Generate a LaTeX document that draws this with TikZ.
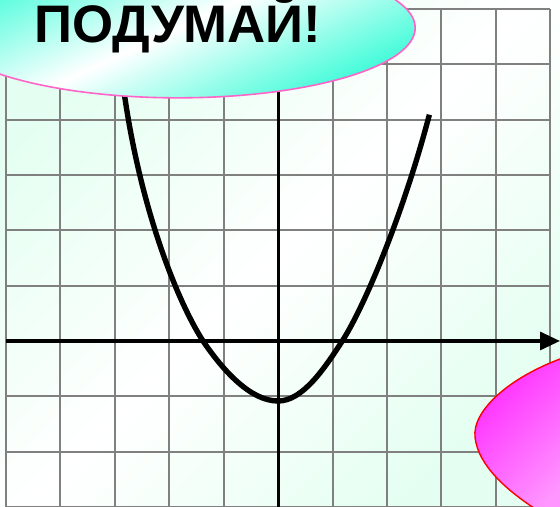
\documentclass[tikz,border=0pt]{standalone}
\usepackage{fontspec}
\setmainfont{Liberation Sans}
\usetikzlibrary{arrows.meta, shapes.geometric}
\definecolor{mint}{RGB}{228,255,241}
\definecolor{aqua}{RGB}{60,252,216}
\definecolor{cloudrim}{RGB}{255,100,200}
\definecolor{blob}{RGB}{255,40,255}
\definecolor{blobhi}{RGB}{255,150,255}
\tikzset{
  gridline/.style={draw=gray, line width=1pt},
  axisline/.style={line width=1.6pt},
  graphline/.style={line width=2.7pt, line join=round}
}
\tikzset{
  thinkcloud/.style={ellipse, draw=cloudrim, line width=0.8pt,
    left color=aqua, right color=aqua, middle color=white, shading angle=25,
    minimum width=8.37cm, minimum height=2.47cm, inner sep=0pt},
  bigword/.style={font=\fontsize{26.5}{30}\selectfont\bfseries}
}

\begin{document}
\begin{tikzpicture}[x=0.96cm, y=0.976cm, >={Triangle[length=10pt,width=9pt]}]
  \useasboundingbox (-5.11,-2.984) rectangle (5.18,6.163);
  \clip (-5.11,-2.984) rectangle (5.18,6.163);
  \fill[left color=mint, right color=mint, middle color=white, shading angle=45]
    (-5.11,-2.984) rectangle (5.18,6.163);
  \foreach \x in {-5,...,5}
    \draw[gridline] (\x,-3) -- (\x,6);
  \foreach \y in {-3,...,6}
    \draw[gridline] (-5,\y) -- (5,\y);
  \draw[axisline, ->] (-5,0) -- (5.18,0);
  \draw[axisline] (0,-3) -- (0,5.2);
  % the graph
  \draw[graphline] (-2.87,4.8) .. controls (-2.6,2.6) and (-1.9,0.8) .. (-1.38,0)
    .. controls (-1.0,-0.55) and (-0.5,-1.085) .. (0,-1.085)
    .. controls (0.45,-1.085) and (0.85,-0.5) .. (1.18,0)
    .. controls (1.6,0.65) and (2.3,2.3) .. (2.78,4.09);
  \node[thinkcloud] (think) at (-1.84,5.66) {};
  \node[bigword] (thinktext) at ([yshift=2pt]think.center) {ПОДУМАЙ!};
  \filldraw[draw=red, line width=0.7pt, left color=blob, right color=blobhi, shading angle=45]
    (5.4,-0.25) .. controls (4.3,-0.6) and (3.55,-1.25) .. (3.62,-1.75)
    .. controls (3.68,-2.25) and (4.2,-2.7) .. (4.75,-3.05)
    -- (5.5,-3.05) -- (5.5,-0.25) -- cycle;
\end{tikzpicture}
\end{document}
